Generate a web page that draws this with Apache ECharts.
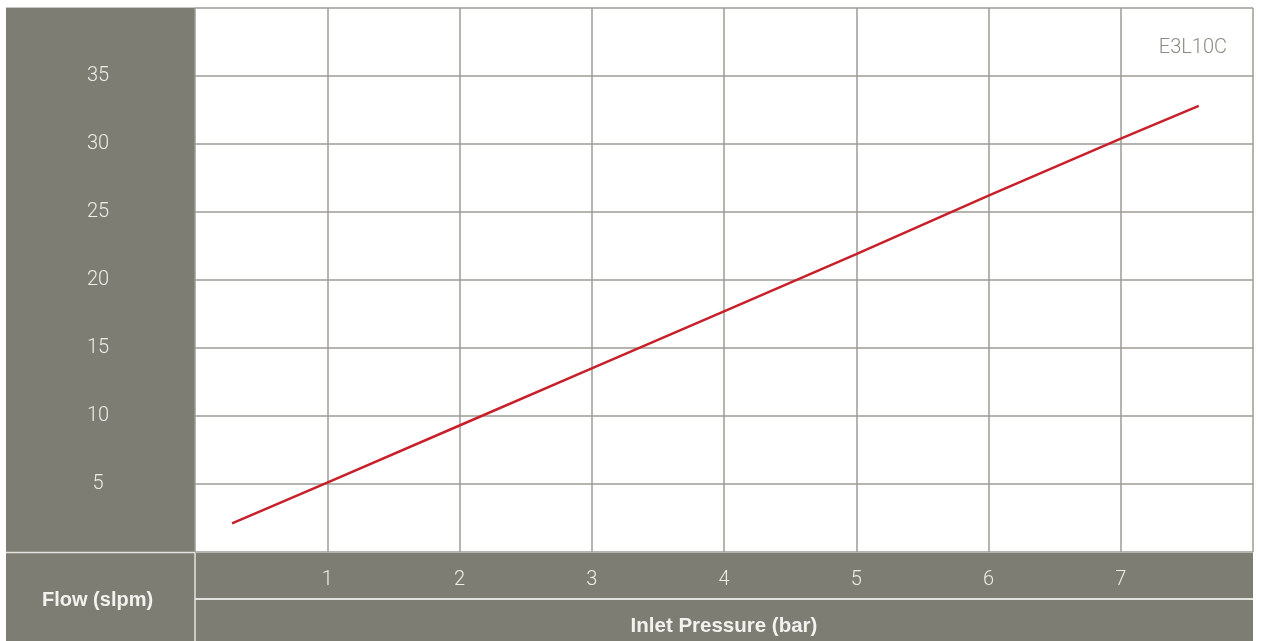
<!DOCTYPE html>
<html><head><meta charset="utf-8">
<script src="https://cdn.jsdelivr.net/npm/echarts@6/dist/echarts.min.js"></script>
<style>html,body{margin:0;padding:0;background:#fff}#c{width:1261px;height:641px}</style>
</head><body><div id="c"></div>
<script>
const pressure = [0.28, 1, 2, 3, 4, 5, 6, 7, 7.59];
const flow = [2.1, 5.1, 9.3, 13.5, 17.7, 21.9, 26.2, 30.4, 32.8];
const seriesName = 'E3L10C';
const xTitle = 'Inlet Pressure (bar)';
const yTitle = 'Flow (slpm)';

const GREY = '#7e7d74';
const NUMFONT = 'Roboto, "Liberation Sans", Arial, sans-serif';
const BOLDFONT = '"Liberation Sans", Arial, sans-serif';
const chart = echarts.init(document.getElementById('c'));
chart.setOption({
  animation: false,
  backgroundColor: '#fff',
  graphic: [
    {type:'rect', z:-10, shape:{x:6,y:8,width:189,height:633}, style:{fill:GREY}},
    {type:'rect', z:-10, shape:{x:195,y:553,width:1058,height:88}, style:{fill:GREY}},
    {type:'line', z:-5, shape:{x1:6,y1:552.5,x2:195,y2:552.5}, style:{stroke:'#e4e4de',lineWidth:1.5}},
    {type:'line', z:-5, shape:{x1:195,y1:552,x2:195,y2:641}, style:{stroke:'#e4e4de',lineWidth:1.5}},
    {type:'line', z:-5, shape:{x1:195,y1:599,x2:1253,y2:599}, style:{stroke:'#e4e4de',lineWidth:2}},
    {type:'line', z:-5, shape:{x1:6,y1:7.5,x2:195,y2:7.5}, style:{stroke:'#c8c8c0',lineWidth:1}},
    {type:'text', left:42, top:590, style:{text:yTitle, fill:'#f2f2ee', font:'bold 20px ' + BOLDFONT}},
    {type:'text', right:34, top:38, style:{text:seriesName, fill:'#8c8b82', font:'300 20px ' + NUMFONT}}
  ],
  grid: {left:195, top:8, width:1058, height:544, containLabel:false, outerBoundsMode:'none'},
  xAxis: {
    type:'value', min:0, max:8, interval:1,
    name: xTitle, nameLocation:'middle', nameGap:64,
    nameTextStyle:{color:'#f2f2ee', fontSize:20.5, fontWeight:'bold', fontFamily:BOLDFONT},
    axisLine:{show:false}, axisTick:{show:false},
    axisLabel:{margin:18, color:'#ecece8', fontSize:20, fontWeight:300, fontFamily:NUMFONT,
      formatter: v => (v===0||v===8)?'':String(v)},
    splitLine:{show:true, lineStyle:{color:'#9c9b93', width:1.5}}
  },
  yAxis: {
    type:'value', min:0, max:40, interval:5,
    axisLine:{show:false}, axisTick:{show:false},
    axisLabel:{margin:97, align:'center', color:'#ecece8', fontSize:20, fontWeight:300, fontFamily:NUMFONT,
      padding:[0,0,5,0],
      formatter: v => (v===0||v===40)?'':String(v)},
    splitLine:{show:true, lineStyle:{color:'#9c9b93', width:1.5}}
  },
  series: [{
    name: seriesName, type:'line',
    data: pressure.map((p,i)=>[p, flow[i]]),
    showSymbol:false, symbol:'none',
    lineStyle:{color:'#c8202a', width:2.5}
  }]
});
</script></body></html>
